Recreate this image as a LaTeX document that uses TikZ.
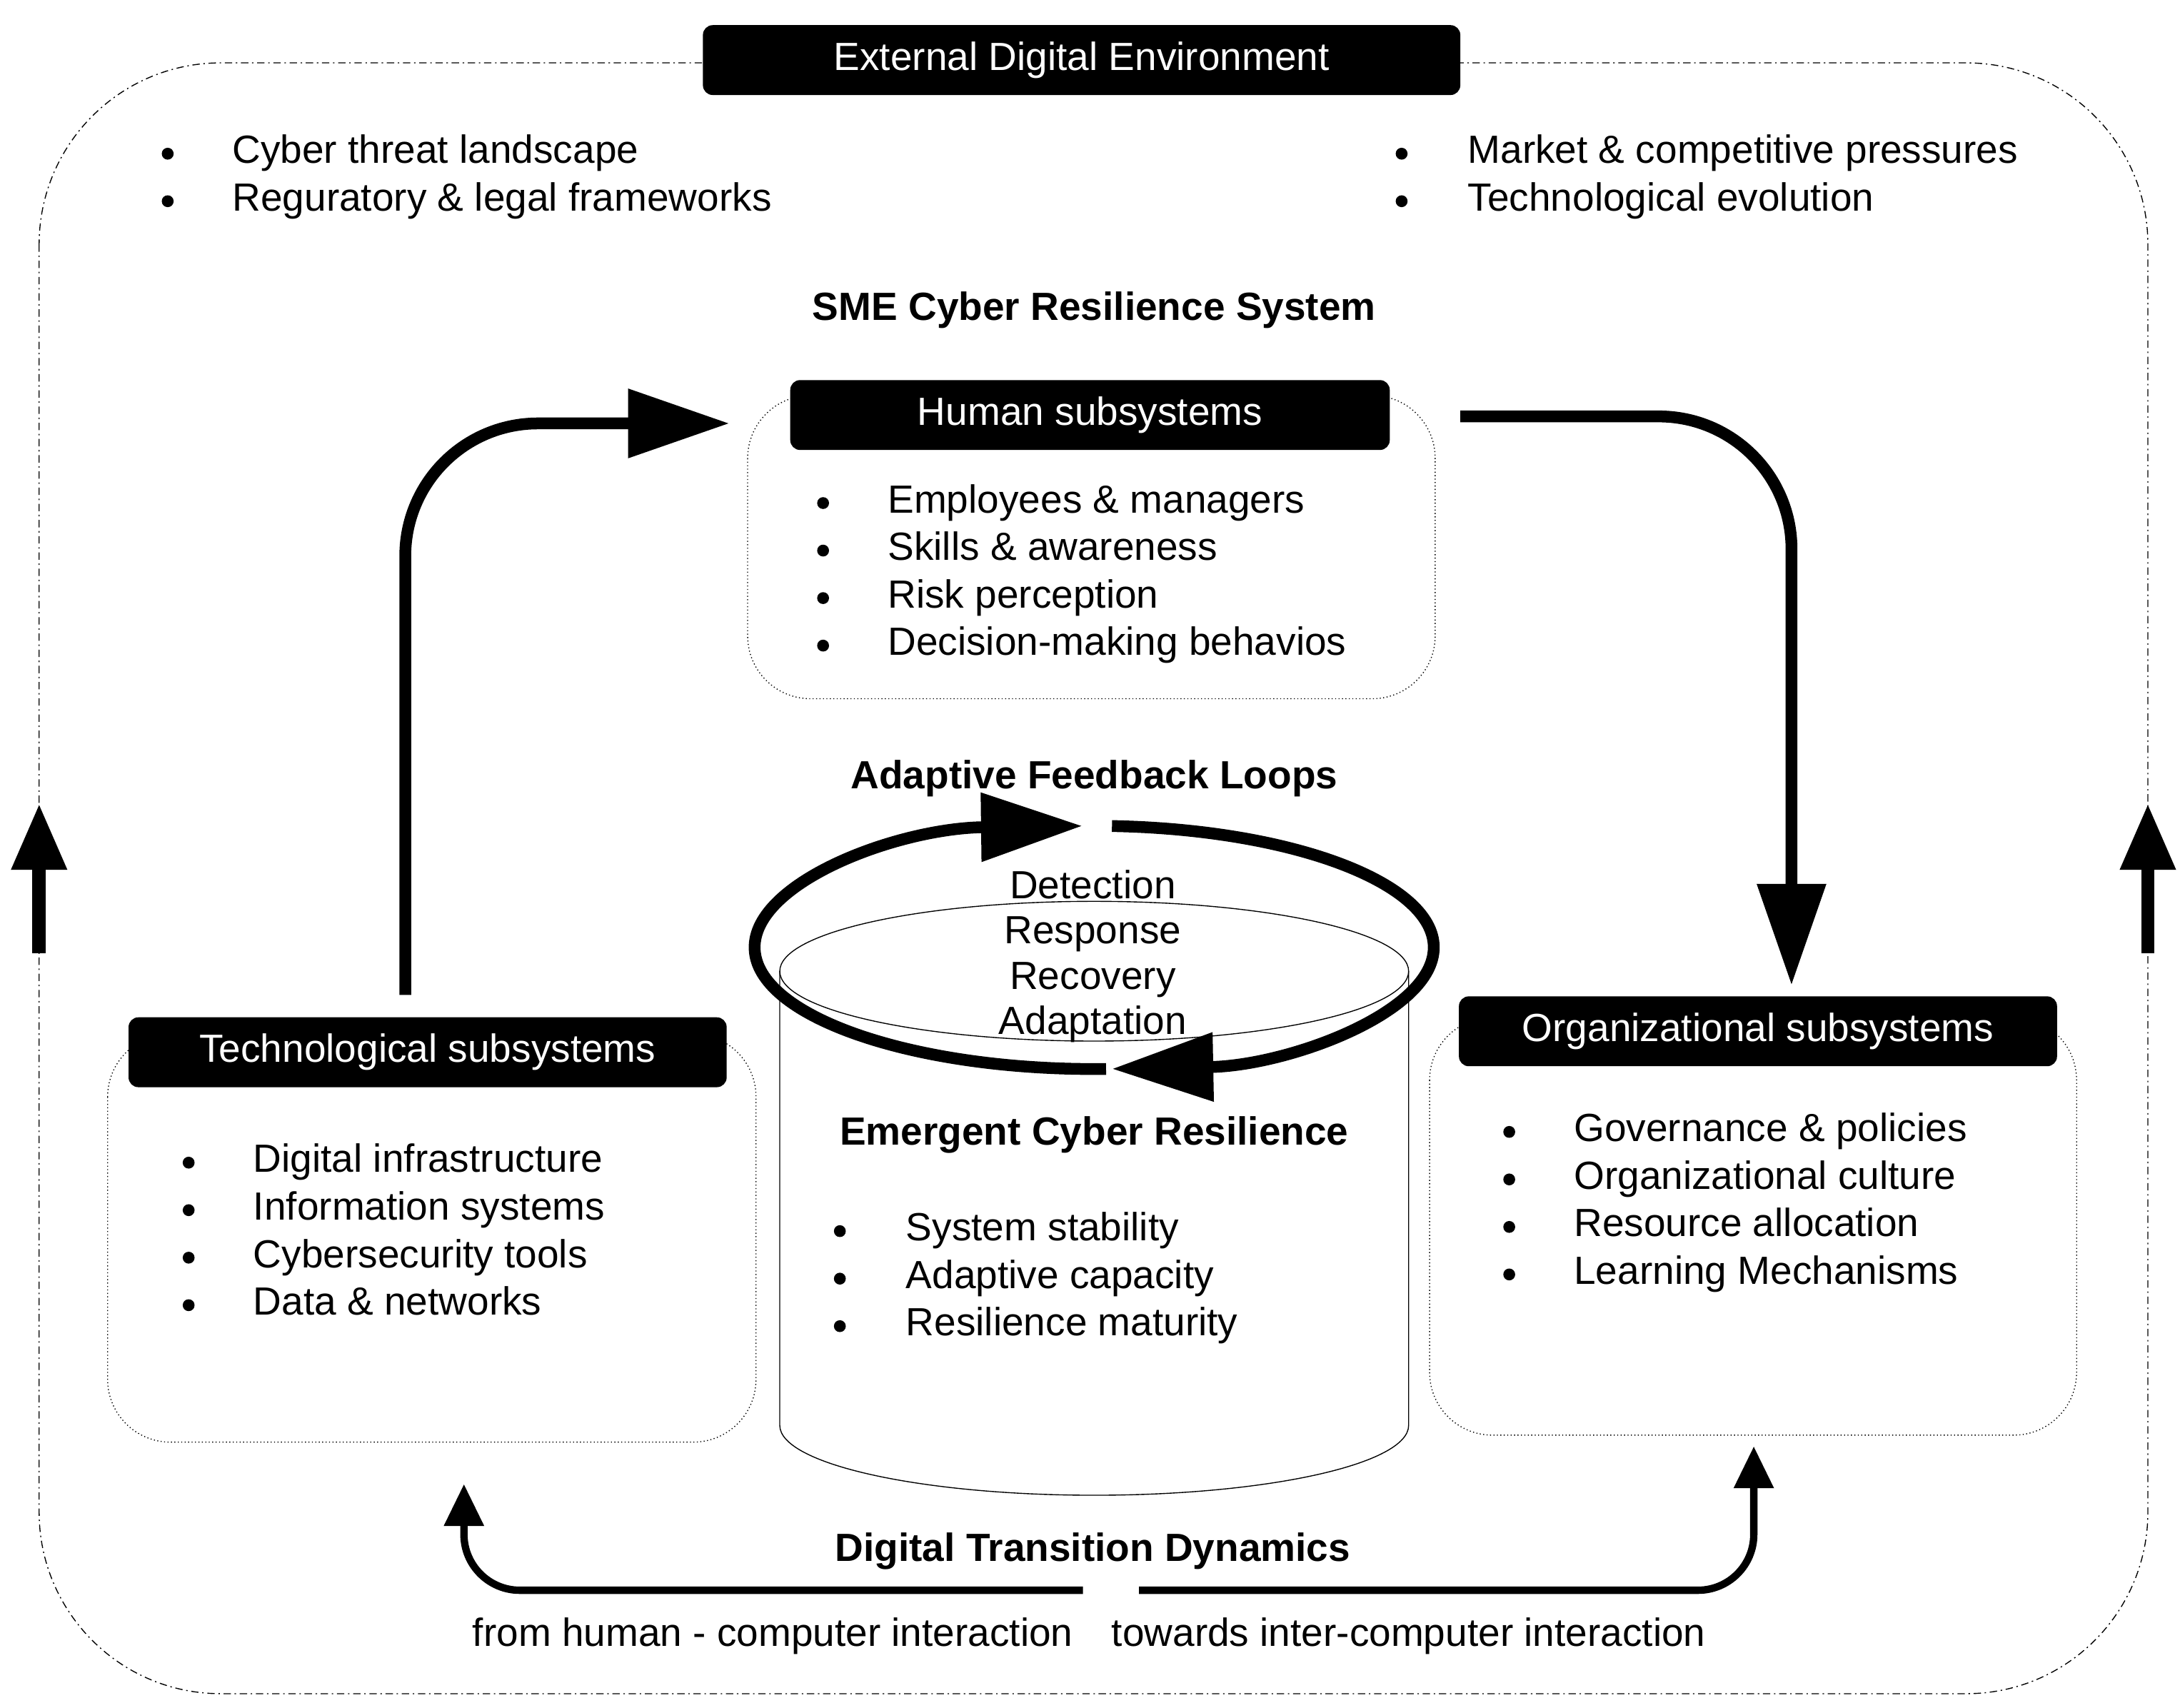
\documentclass[tikz,border=0pt]{standalone}
\usepackage{fontspec}
\setmainfont{Liberation Sans}
\usetikzlibrary{arrows.meta}
\begin{document}
\begin{tikzpicture}[x=0.02cm,y=-0.02cm,
  txt/.style={font=\fontsize{16}{19}\selectfont,inner sep=0pt},
  itm/.style={txt,anchor=base west},
  btxt/.style={font=\fontsize{16}{19}\selectfont\bfseries,inner sep=0pt},
  dot/.style={fill=black,circle,inner sep=0pt,minimum size=0.17cm},
  hdr/.style={fill=black,rounded corners=4pt,text=white,font=\fontsize{16}{19}\selectfont,align=center,inner sep=0pt},
  panel/.style={draw,densely dotted,thin,rounded corners=0.9cm},
  big/.style={line width=4.8pt,-{Triangle[length=1.45cm,width=0.95cm]}},
  small/.style={line width=3pt,-{Triangle[length=0.6cm,width=0.55cm]}}]
\useasboundingbox (0,0) rectangle (1560,1222);
% outer
\draw[thin,dash pattern=on 3pt off 1.5pt on 0.6pt off 1.5pt,rounded corners=2.6cm] (28,45) rectangle (1537,1212);
\node[hdr,minimum width=542*0.02cm,minimum height=50*0.02cm] (ext) at (774,43) {External Digital Environment};
\foreach \y/\t [count=\i] in {110/Cyber threat landscape,144/Reguratory \& legal frameworks}{
  \node[dot] (el\i) at (120,\y) {}; \node[itm] (elt\i) at (166,\y+7) {\t};}
\foreach \y/\t [count=\i] in {110/Market \& competitive pressures,144/Technological evolution}{
  \node[dot] (er\i) at (1003,\y) {}; \node[itm] (ert\i) at (1050,\y+7) {\t};}
\node[btxt] (sme) at (783,222) {SME Cyber Resilience System};
% panels
\draw[panel] (535,283) rectangle (1027,500);
\node[hdr,minimum width=429*0.02cm,minimum height=50*0.02cm] (hum) at (780,297) {Human subsystems};
\foreach \y/\t [count=\i] in {360/Employees \& managers,394/Skills \& awareness,428/Risk perception,462/Decision-making behavios}{
  \node[dot] (hb\i) at (589,\y) {}; \node[itm] (ht\i) at (635,\y+7) {\t};}
\draw[panel] (77,740) rectangle (541,1032);
\node[hdr,minimum width=428*0.02cm,minimum height=50*0.02cm] (tech) at (306,753) {Technological subsystems};
\foreach \y/\t [count=\i] in {832/Digital infrastructure,866/Information systems,900/Cybersecurity tools,934/Data \& networks}{
  \node[dot] (tb\i) at (135,\y) {}; \node[itm] (tt\i) at (181,\y+7) {\t};}
\draw[panel] (1023,728) rectangle (1486,1027);
\node[hdr,minimum width=428*0.02cm,minimum height=50*0.02cm] (org) at (1258,738) {Organizational subsystems};
\foreach \y/\t [count=\i] in {810/Governance \& policies,844/Organizational culture,878/Resource allocation,912/Learning Mechanisms}{
  \node[dot] (ob\i) at (1080,\y) {}; \node[itm] (ot\i) at (1126,\y+7) {\t};}
% cylinder
\draw[thin] (558,695) -- (558,1020) arc[start angle=180,end angle=0,x radius=225,y radius=50] -- (1008,695);
\draw[thin] (783,695) ellipse[x radius=225,y radius=50];
% loop
\draw[big] (783,678) ++(88:243 and 87) arc[start angle=88,end angle=268,x radius=243,y radius=87];
\draw[big] (783,678) ++(273:243 and 87) arc[start angle=273,end angle=447,x radius=243,y radius=87];
\node[btxt] (afl) at (783,557) {Adaptive Feedback Loops};
\foreach \y/\t [count=\i] in {636/Detection,668/Response,701/Recovery,733/Adaptation}{
  \node[txt,anchor=base] (lp\i) at (782,\y+7) {\t};}
\node[btxt] (ecr) at (783,812) {Emergent Cyber Resilience};
\foreach \y/\t [count=\i] in {881/System stability,915/Adaptive capacity,949/Resilience maturity}{
  \node[dot] (cb\i) at (601,\y) {}; \node[itm] (ct\i) at (648,\y+7) {\t};}
% big arrows
\coordinate (a1) at (290,712); \coordinate (a2) at (522,303);
\draw[big,rounded corners=1.9cm] (a1) -- (290,303) -- (a2);
\coordinate (b1) at (1045,298); \coordinate (b2) at (1282,705);
\draw[big,rounded corners=1.9cm] (b1) -- (1282,298) -- (b2);
% bottom
\node[btxt] (dtd) at (782,1110) {Digital Transition Dynamics};
\node[txt,anchor=base] (fh) at (553,1178) {from human - computer interaction};
\node[txt,anchor=base] (ti) at (1008,1178) {towards inter-computer interaction};
\coordinate (c1) at (775,1138); \coordinate (c2) at (332,1062);
\draw[small,rounded corners=0.8cm] (c1) -- (332,1138) -- (c2);
\coordinate (d1) at (815,1138); \coordinate (d2) at (1255,1035);
\draw[small,rounded corners=0.8cm] (d1) -- (1255,1138) -- (d2);
% side arrows
\coordinate (s1) at (28,682); \coordinate (s2) at (28,575);
\draw[line width=5.5pt,-{Triangle[length=0.95cm,width=0.75cm]}] (s1) -- (s2);
\coordinate (r1) at (1537,682); \coordinate (r2) at (1537,575);
\draw[line width=5.5pt,-{Triangle[length=0.95cm,width=0.75cm]}] (r1) -- (r2);
\end{tikzpicture}
\end{document}
